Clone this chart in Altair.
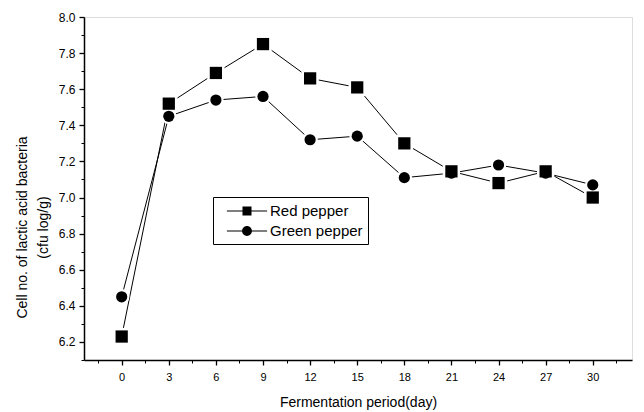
import altair as alt
import pandas as pd

days = [0, 3, 6, 9, 12, 15, 18, 21, 24, 27, 30]
red_pepper = [6.23, 7.52, 7.69, 7.85, 7.66, 7.61, 7.30, 7.145, 7.08, 7.145, 7.00]
green_pepper = [6.45, 7.45, 7.54, 7.56, 7.32, 7.34, 7.11, 7.135, 7.18, 7.135, 7.07]
series_names = ["Red pepper", "Green pepper"]

x_major = [0, 3, 6, 9, 12, 15, 18, 21, 24, 27, 30]
x_minor = [-1.5, 1.5, 4.5, 7.5, 10.5, 13.5, 16.5, 19.5, 22.5, 25.5, 28.5, 31.5]
y_major = [6.2, 6.4, 6.6, 6.8, 7.0, 7.2, 7.4, 7.6, 7.8, 8.0]
y_minor = [6.1, 6.3, 6.5, 6.7, 6.9, 7.1, 7.3, 7.5, 7.7, 7.9]

rows = []
for d, v in zip(days, red_pepper):
    rows.append({"day": d, "value": v, "series": series_names[0]})
for d, v in zip(days, green_pepper):
    rows.append({"day": d, "value": v, "series": series_names[1]})
df = pd.DataFrame(rows)

FONT = "Liberation Sans"
xscale = alt.Scale(domain=[-2.4, 32.5], nice=False, zero=False)
yscale = alt.Scale(domain=[6.1, 8.0], nice=False, zero=False)

x_main = alt.X("day:Q", scale=xscale, axis=alt.Axis(
    values=x_major, format="d", orient="bottom", grid=False,
    title="Fermentation period(day)", titleFont=FONT, titleFontSize=14,
    titleFontWeight="normal", titleColor="black", titlePadding=13,
    labelFont=FONT, labelFontSize=11, labelColor="black", labelPadding=6,
    tickSize=5, tickColor="black", tickWidth=1.3,
    domainColor="black", domainWidth=1.5))
y_main = alt.Y("value:Q", scale=yscale, axis=alt.Axis(
    values=y_major, format=".1f", orient="left", grid=False,
    title=["Cell no. of lactic acid bacteria", "(cfu log/g)"],
    titleFont=FONT, titleFontSize=14, titleFontWeight="normal",
    titleColor="black", titleAngle=-90, titleAlign="center",
    titleBaseline="middle", titleLineHeight=21, titleX=-62, titleY=210,
    labelFont=FONT, labelFontSize=12, labelColor="black", labelPadding=4,
    tickSize=5, tickColor="black", tickWidth=1.3,
    domainColor="black", domainWidth=1.5))

base = alt.Chart(df)

lines = base.mark_line(color="black", strokeWidth=1).encode(
    x=x_main, y=y_main, detail="series:N")

shape_scale_pts = alt.Scale(domain=series_names, range=["square", "circle"])
size_scale_halo = alt.Scale(domain=series_names, range=[300, 240])
size_scale_pts = alt.Scale(domain=series_names, range=[150, 125])

halo = base.mark_point(filled=True, color="white", opacity=1).encode(
    x=alt.X("day:Q", scale=xscale, axis=None),
    y=alt.Y("value:Q", scale=yscale, axis=None),
    shape=alt.Shape("series:N", scale=shape_scale_pts, legend=None),
    size=alt.Size("series:N", scale=size_scale_halo, legend=None))

points = base.mark_point(filled=True, color="black", opacity=1).encode(
    x=alt.X("day:Q", scale=xscale, axis=None),
    y=alt.Y("value:Q", scale=yscale, axis=None),
    shape=alt.Shape("series:N", scale=shape_scale_pts, legend=None),
    size=alt.Size("series:N", scale=size_scale_pts, legend=None))

minor = base.mark_point(opacity=0).encode(
    x=alt.X("day:Q", scale=xscale, axis=alt.Axis(
        values=x_minor, labels=False, title=None, orient="bottom",
        domain=False, grid=False, tickSize=3, tickColor="black", tickWidth=1)),
    y=alt.Y("value:Q", scale=yscale, axis=alt.Axis(
        values=y_minor, labels=False, title=None, orient="left",
        domain=False, grid=False, tickSize=3, tickColor="black", tickWidth=1)))

sq_path = "M-2.45,-0.07H2.45V0.07H-2.45Z M-0.55,-0.55H0.55V0.55H-0.55Z"
ci_path = ("M-2.45,-0.07H2.45V0.07H-2.45Z "
           "M0.6,0A0.6,0.6 0 1 1 -0.6,0A0.6,0.6 0 1 1 0.6,0Z")

legend_layer = base.transform_filter("false").mark_point(
    filled=True, color="black", opacity=1, size=269).encode(
    x=alt.X("day:Q", scale=xscale, axis=None),
    y=alt.Y("value:Q", scale=yscale, axis=None),
    shape=alt.Shape("series:N",
                    scale=alt.Scale(domain=series_names, range=[sq_path, ci_path]),
                    legend=alt.Legend(
                        title=None, orient="none", legendX=129, legendY=180,
                        strokeColor="black", fillColor="white", padding=5,
                        symbolSize=269, symbolOffset=20, labelOffset=14,
                        labelFont=FONT, labelFontSize=15, labelColor="black",
                        rowPadding=3, symbolFillColor="black")))

chart = alt.layer(lines, minor, halo, points, legend_layer).resolve_scale(
    shape="independent", size="independent").resolve_axis(
    x="independent", y="independent").properties(
    width=548, height=343,
    autosize=alt.AutoSizeParams(type="none"),
    padding={"left": 76, "top": 9, "right": 4, "bottom": 52},
).configure_view(stroke=None).configure(background="white")

chart.save("out.html", embed_options={"renderer": "svg", "actions": False})
